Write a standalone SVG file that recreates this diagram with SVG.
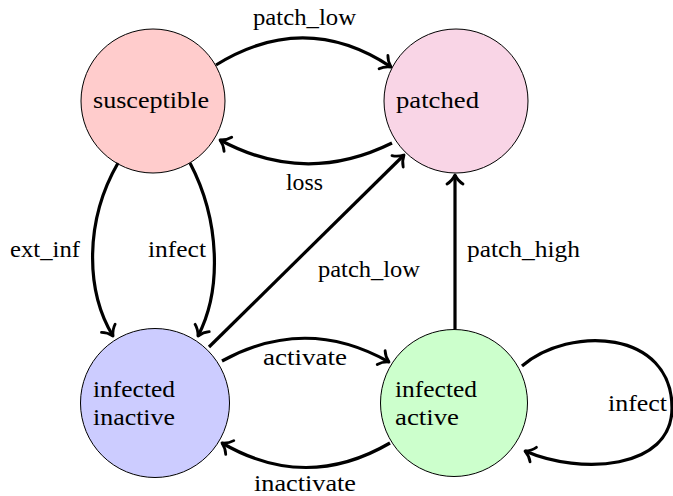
<svg xmlns="http://www.w3.org/2000/svg" width="673" height="496" viewBox="0 0 673 496">
<defs>
<style>
.node{stroke:#000;stroke-width:1}
.e{fill:none;stroke:#000;stroke-width:3.2}
</style>
<marker id="arr" markerUnits="userSpaceOnUse" markerWidth="24" markerHeight="24" viewBox="-12 -12 24 24" refX="0" refY="0" orient="auto" overflow="visible">
<path d="M-9,-8 C-6,-3 -2,-1 0,0 C-2,1 -6,3 -9,8" fill="none" stroke="#000" stroke-width="2.8" stroke-linecap="round" stroke-linejoin="round"/>
</marker>
</defs>
<rect width="673" height="496" fill="#fff"/>
<g id="susceptible">
<circle class="node" cx="153" cy="101" r="72" fill="#ffcccc"/>
<text font-family="Liberation Serif" font-size="23" x="93" y="108" textLength="116" lengthAdjust="spacingAndGlyphs">susceptible</text>
</g>
<g id="patched">
<circle class="node" cx="456" cy="101" r="72" fill="#f9d5e6"/>
<text font-family="Liberation Serif" font-size="23" x="396" y="108" textLength="83" lengthAdjust="spacingAndGlyphs">patched</text>
</g>
<g id="infected_inactive">
<circle class="node" cx="155" cy="403" r="74.5" fill="#ccccff"/>
<text font-family="Liberation Serif" font-size="23" x="93" y="397" textLength="82" lengthAdjust="spacingAndGlyphs">infected</text>
<text font-family="Liberation Serif" font-size="23" x="93" y="425" textLength="82" lengthAdjust="spacingAndGlyphs">inactive</text>
</g>
<g id="infected_active">
<circle class="node" cx="454" cy="403" r="73.5" fill="#ccffcc"/>
<text font-family="Liberation Serif" font-size="23" x="395" y="397" textLength="82" lengthAdjust="spacingAndGlyphs">infected</text>
<text font-family="Liberation Serif" font-size="23" x="395" y="425" textLength="64" lengthAdjust="spacingAndGlyphs">active</text>
</g>
<g id="connectors">
<path class="e" d="M216,65 Q305,10 391,67" marker-end="url(#arr)"/>
<path class="e" d="M392,143 Q305,186 220,140" marker-end="url(#arr)"/>
<path class="e" d="M118,163 C85,220 85,290 113,336" marker-end="url(#arr)"/>
<path class="e" d="M190,163 C220,220 222,290 198,336" marker-end="url(#arr)"/>
<path class="e" d="M209,347 L404,155" marker-end="url(#arr)"/>
<path class="e" d="M455,329 L455,175" marker-end="url(#arr)"/>
<path class="e" d="M222,361 Q306,315 389,362" marker-end="url(#arr)"/>
<path class="e" d="M390,443 Q306,492 222,443" marker-end="url(#arr)"/>
<path class="e" d="M522,366 C570,325 672,330 672,408 C672,470 580,475 525,451" marker-end="url(#arr)"/>
<text font-family="Liberation Serif" font-size="23" x="253" y="25" textLength="103" lengthAdjust="spacingAndGlyphs">patch_low</text>
<text font-family="Liberation Serif" font-size="23" x="286" y="190" textLength="37" lengthAdjust="spacingAndGlyphs">loss</text>
<text font-family="Liberation Serif" font-size="23" x="10" y="257" textLength="70" lengthAdjust="spacingAndGlyphs">ext_inf</text>
<text font-family="Liberation Serif" font-size="23" x="148" y="257" textLength="58" lengthAdjust="spacingAndGlyphs">infect</text>
<text font-family="Liberation Serif" font-size="23" x="318" y="277" textLength="102" lengthAdjust="spacingAndGlyphs">patch_low</text>
<text font-family="Liberation Serif" font-size="23" x="467" y="257" textLength="113" lengthAdjust="spacingAndGlyphs">patch_high</text>
<text font-family="Liberation Serif" font-size="23" x="263" y="365" textLength="84" lengthAdjust="spacingAndGlyphs">activate</text>
<text font-family="Liberation Serif" font-size="23" x="254" y="491" textLength="102" lengthAdjust="spacingAndGlyphs">inactivate</text>
<text font-family="Liberation Serif" font-size="23" x="608" y="411" textLength="59" lengthAdjust="spacingAndGlyphs">infect</text>
</g>
</svg>
